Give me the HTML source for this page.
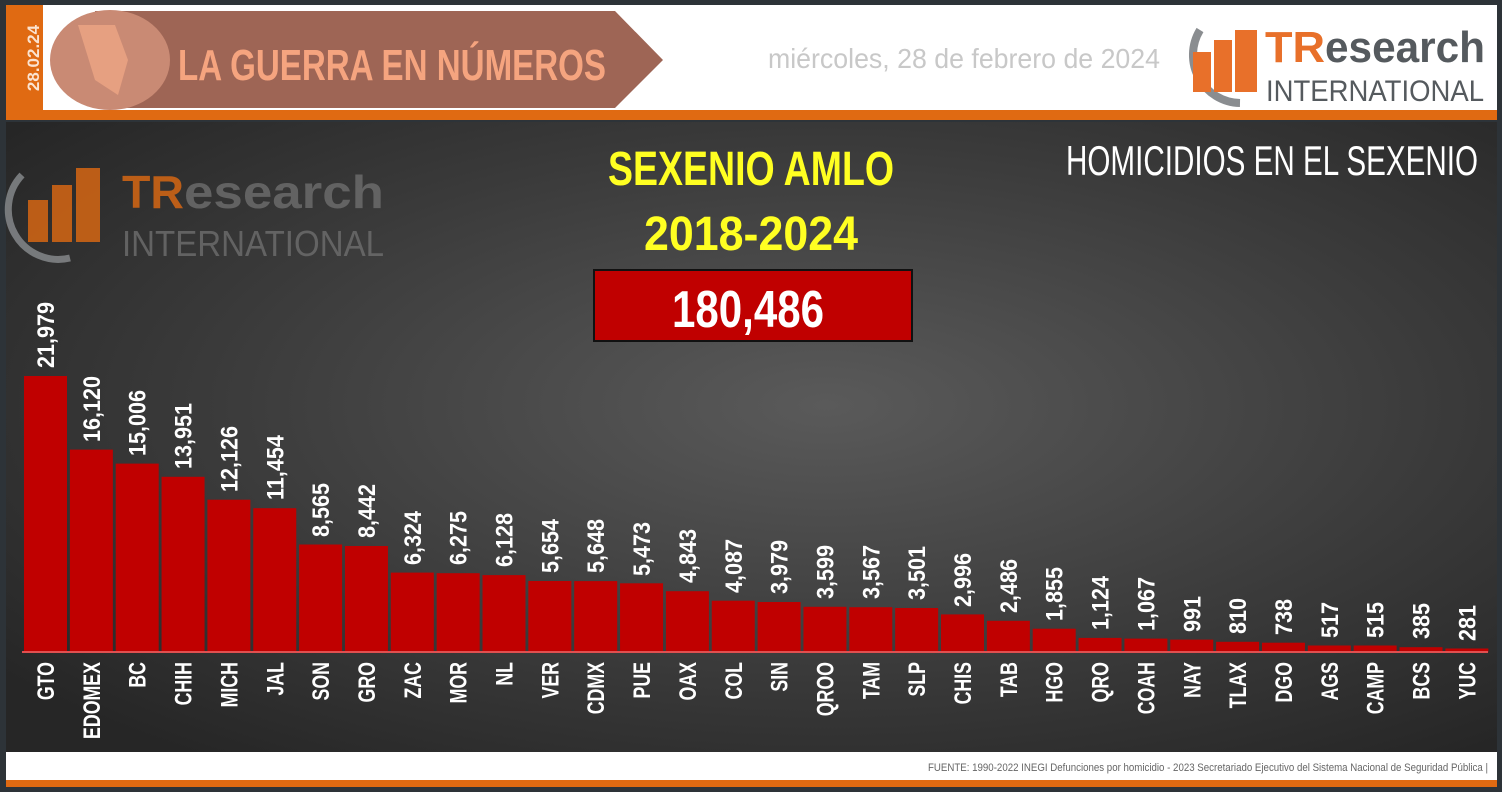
<!DOCTYPE html>
<html><head><meta charset="utf-8"><style>
html,body{margin:0;padding:0;}
body{width:1502px;height:787px;overflow:hidden;background:#2d3338;font-family:"Liberation Sans",sans-serif;}
</style></head><body>
<svg width="1502" height="787" viewBox="0 0 1502 787" xmlns="http://www.w3.org/2000/svg" font-family="'Liberation Sans',sans-serif">
<defs>
<radialGradient id="bg" cx="0.55" cy="0.45" r="0.7">
<stop offset="0" stop-color="#5a5a5a"/><stop offset="0.6" stop-color="#3a3a3a"/><stop offset="1" stop-color="#262626"/>
</radialGradient>
</defs>
<rect x="0" y="0" width="1502" height="787" fill="#2d3338"/>
<rect x="6" y="5" width="1491" height="106" fill="#ffffff"/>
<rect x="6" y="110" width="1491" height="10" fill="#e06a12"/>
<rect x="6" y="5" width="37" height="110" fill="#e06a12"/>
<text transform="translate(39,58) rotate(-90)" text-anchor="middle" fill="#fbe3d0" font-size="17" font-weight="bold">28.02.24</text>
<polygon points="95,11 615,11 663,60 615,108 95,108" fill="#9e6555"/>
<ellipse cx="110" cy="60" rx="60" ry="50" fill="#c98a74"/>
<path d="M78,25 L115,25 L128,60 L118,95 L95,80 Z" fill="#eea585" opacity="0.8"/>
<text x="178" y="80" fill="#f5a47f" font-size="44" font-weight="bold" textLength="428" lengthAdjust="spacingAndGlyphs">LA GUERRA EN NÚMEROS</text>
<text x="768" y="68" fill="#c8c8c8" font-size="28" textLength="392" lengthAdjust="spacingAndGlyphs">miércoles, 28 de febrero de 2024</text>
<path d="M1200,30 A48,48 0 0 0 1240,103" stroke="#8a8d90" stroke-width="8" fill="none"/>
<rect x="1193" y="52" width="18" height="40" fill="#e8702a"/>
<rect x="1214" y="40" width="18" height="52" fill="#e8702a"/>
<rect x="1235" y="30" width="22" height="62" fill="#e8702a"/>
<text x="1265" y="62" font-size="44" font-weight="bold" fill="#e8702a" textLength="60" lengthAdjust="spacingAndGlyphs">TR</text>
<text x="1325" y="62" font-size="44" font-weight="bold" fill="#555a5e" textLength="160" lengthAdjust="spacingAndGlyphs">esearch</text>
<text x="1266" y="101" font-size="30" fill="#555a5e" textLength="218" lengthAdjust="spacingAndGlyphs">INTERNATIONAL</text>
<rect x="6" y="122" width="1491" height="630" fill="url(#bg)"/>
<g opacity="0.8">
<path d="M22,175 A50,50 0 0 0 70,258" stroke="#8a8d90" stroke-width="7" fill="none"/>
<rect x="28" y="200" width="20" height="42" fill="#e06a12"/>
<rect x="52" y="185" width="20" height="57" fill="#e06a12"/>
<rect x="76" y="168" width="24" height="74" fill="#e06a12"/>
<text x="122" y="208" font-size="46" font-weight="bold" fill="#e06a12" textLength="62" lengthAdjust="spacingAndGlyphs">TR</text>
<text x="184" y="208" font-size="46" font-weight="bold" fill="#6e6e6e" textLength="200" lengthAdjust="spacingAndGlyphs">esearch</text>
<text x="122" y="256" font-size="36" fill="#6e6e6e" textLength="262" lengthAdjust="spacingAndGlyphs">INTERNATIONAL</text>
</g>
<text x="751" y="185" text-anchor="middle" fill="#ffff22" font-size="48" font-weight="bold" textLength="286" lengthAdjust="spacingAndGlyphs">SEXENIO  AMLO</text>
<text x="751" y="250" text-anchor="middle" fill="#ffff22" font-size="48" font-weight="bold" textLength="214" lengthAdjust="spacingAndGlyphs">2018-2024</text>
<rect x="594" y="270" width="318" height="71" fill="#c00000" stroke="#111" stroke-width="2"/>
<text x="748" y="327" text-anchor="middle" fill="#ffffff" font-size="52" font-weight="bold" textLength="152" lengthAdjust="spacingAndGlyphs">180,486</text>
<text x="1478" y="175" text-anchor="end" fill="#ffffff" font-size="42" textLength="412" lengthAdjust="spacingAndGlyphs">HOMICIDIOS EN EL SEXENIO</text>
<g fill="#ffffff" font-weight="bold" font-size="24">
<g transform="translate(24)"><rect y="376" width="43" height="276" fill="#c00000"/><text transform="translate(30,368) rotate(-90) scale(0.9,1)">21,979</text><text transform="translate(30,662) rotate(-90) scale(0.74,1)" text-anchor="end">GTO</text></g>
<g transform="translate(69.85)"><rect y="449.6" width="43" height="202.4" fill="#c00000"/><text transform="translate(30,442) rotate(-90) scale(0.9,1)">16,120</text><text transform="translate(30,662) rotate(-90) scale(0.74,1)" text-anchor="end">EDOMEX</text></g>
<g transform="translate(115.7)"><rect y="463.6" width="43" height="188.4" fill="#c00000"/><text transform="translate(30,456) rotate(-90) scale(0.9,1)">15,006</text><text transform="translate(30,662) rotate(-90) scale(0.74,1)" text-anchor="end">BC</text></g>
<g transform="translate(161.55)"><rect y="476.8" width="43" height="175.2" fill="#c00000"/><text transform="translate(30,469) rotate(-90) scale(0.9,1)">13,951</text><text transform="translate(30,662) rotate(-90) scale(0.74,1)" text-anchor="end">CHIH</text></g>
<g transform="translate(207.4)"><rect y="499.7" width="43" height="152.3" fill="#c00000"/><text transform="translate(30,492) rotate(-90) scale(0.9,1)">12,126</text><text transform="translate(30,662) rotate(-90) scale(0.74,1)" text-anchor="end">MICH</text></g>
<g transform="translate(253.25)"><rect y="508.2" width="43" height="143.8" fill="#c00000"/><text transform="translate(30,500) rotate(-90) scale(0.9,1)">11,454</text><text transform="translate(30,662) rotate(-90) scale(0.74,1)" text-anchor="end">JAL</text></g>
<g transform="translate(299.1)"><rect y="544.5" width="43" height="107.5" fill="#c00000"/><text transform="translate(30,537) rotate(-90) scale(0.9,1)">8,565</text><text transform="translate(30,662) rotate(-90) scale(0.74,1)" text-anchor="end">SON</text></g>
<g transform="translate(344.95)"><rect y="546" width="43" height="106" fill="#c00000"/><text transform="translate(30,538) rotate(-90) scale(0.9,1)">8,442</text><text transform="translate(30,662) rotate(-90) scale(0.74,1)" text-anchor="end">GRO</text></g>
<g transform="translate(390.8)"><rect y="572.6" width="43" height="79.4" fill="#c00000"/><text transform="translate(30,565) rotate(-90) scale(0.9,1)">6,324</text><text transform="translate(30,662) rotate(-90) scale(0.74,1)" text-anchor="end">ZAC</text></g>
<g transform="translate(436.65)"><rect y="573.2" width="43" height="78.8" fill="#c00000"/><text transform="translate(30,565) rotate(-90) scale(0.9,1)">6,275</text><text transform="translate(30,662) rotate(-90) scale(0.74,1)" text-anchor="end">MOR</text></g>
<g transform="translate(482.5)"><rect y="575.1" width="43" height="76.9" fill="#c00000"/><text transform="translate(30,567) rotate(-90) scale(0.9,1)">6,128</text><text transform="translate(30,662) rotate(-90) scale(0.74,1)" text-anchor="end">NL</text></g>
<g transform="translate(528.35)"><rect y="581" width="43" height="71" fill="#c00000"/><text transform="translate(30,573) rotate(-90) scale(0.9,1)">5,654</text><text transform="translate(30,662) rotate(-90) scale(0.74,1)" text-anchor="end">VER</text></g>
<g transform="translate(574.2)"><rect y="581.1" width="43" height="70.9" fill="#c00000"/><text transform="translate(30,573) rotate(-90) scale(0.9,1)">5,648</text><text transform="translate(30,662) rotate(-90) scale(0.74,1)" text-anchor="end">CDMX</text></g>
<g transform="translate(620.05)"><rect y="583.3" width="43" height="68.7" fill="#c00000"/><text transform="translate(30,576) rotate(-90) scale(0.9,1)">5,473</text><text transform="translate(30,662) rotate(-90) scale(0.74,1)" text-anchor="end">PUE</text></g>
<g transform="translate(665.9)"><rect y="591.2" width="43" height="60.8" fill="#c00000"/><text transform="translate(30,583) rotate(-90) scale(0.9,1)">4,843</text><text transform="translate(30,662) rotate(-90) scale(0.74,1)" text-anchor="end">OAX</text></g>
<g transform="translate(711.75)"><rect y="600.7" width="43" height="51.3" fill="#c00000"/><text transform="translate(30,593) rotate(-90) scale(0.9,1)">4,087</text><text transform="translate(30,662) rotate(-90) scale(0.74,1)" text-anchor="end">COL</text></g>
<g transform="translate(757.6)"><rect y="602" width="43" height="50" fill="#c00000"/><text transform="translate(30,594) rotate(-90) scale(0.9,1)">3,979</text><text transform="translate(30,662) rotate(-90) scale(0.74,1)" text-anchor="end">SIN</text></g>
<g transform="translate(803.45)"><rect y="606.8" width="43" height="45.2" fill="#c00000"/><text transform="translate(30,599) rotate(-90) scale(0.9,1)">3,599</text><text transform="translate(30,662) rotate(-90) scale(0.74,1)" text-anchor="end">QROO</text></g>
<g transform="translate(849.3)"><rect y="607.2" width="43" height="44.8" fill="#c00000"/><text transform="translate(30,599) rotate(-90) scale(0.9,1)">3,567</text><text transform="translate(30,662) rotate(-90) scale(0.74,1)" text-anchor="end">TAM</text></g>
<g transform="translate(895.15)"><rect y="608" width="43" height="44" fill="#c00000"/><text transform="translate(30,600) rotate(-90) scale(0.9,1)">3,501</text><text transform="translate(30,662) rotate(-90) scale(0.74,1)" text-anchor="end">SLP</text></g>
<g transform="translate(941)"><rect y="614.4" width="43" height="37.6" fill="#c00000"/><text transform="translate(30,607) rotate(-90) scale(0.9,1)">2,996</text><text transform="translate(30,662) rotate(-90) scale(0.74,1)" text-anchor="end">CHIS</text></g>
<g transform="translate(986.85)"><rect y="620.8" width="43" height="31.2" fill="#c00000"/><text transform="translate(30,613) rotate(-90) scale(0.9,1)">2,486</text><text transform="translate(30,662) rotate(-90) scale(0.74,1)" text-anchor="end">TAB</text></g>
<g transform="translate(1032.7)"><rect y="628.7" width="43" height="23.3" fill="#c00000"/><text transform="translate(30,621) rotate(-90) scale(0.9,1)">1,855</text><text transform="translate(30,662) rotate(-90) scale(0.74,1)" text-anchor="end">HGO</text></g>
<g transform="translate(1078.55)"><rect y="637.9" width="43" height="14.1" fill="#c00000"/><text transform="translate(30,630) rotate(-90) scale(0.9,1)">1,124</text><text transform="translate(30,662) rotate(-90) scale(0.74,1)" text-anchor="end">QRO</text></g>
<g transform="translate(1124.4)"><rect y="638.6" width="43" height="13.4" fill="#c00000"/><text transform="translate(30,631) rotate(-90) scale(0.9,1)">1,067</text><text transform="translate(30,662) rotate(-90) scale(0.74,1)" text-anchor="end">COAH</text></g>
<g transform="translate(1170.25)"><rect y="639.6" width="43" height="12.4" fill="#c00000"/><text transform="translate(30,632) rotate(-90) scale(0.9,1)">991</text><text transform="translate(30,662) rotate(-90) scale(0.74,1)" text-anchor="end">NAY</text></g>
<g transform="translate(1216.1)"><rect y="641.8" width="43" height="10.2" fill="#c00000"/><text transform="translate(30,634) rotate(-90) scale(0.9,1)">810</text><text transform="translate(30,662) rotate(-90) scale(0.74,1)" text-anchor="end">TLAX</text></g>
<g transform="translate(1261.95)"><rect y="642.7" width="43" height="9.3" fill="#c00000"/><text transform="translate(30,635) rotate(-90) scale(0.9,1)">738</text><text transform="translate(30,662) rotate(-90) scale(0.74,1)" text-anchor="end">DGO</text></g>
<g transform="translate(1307.8)"><rect y="645.5" width="43" height="6.5" fill="#c00000"/><text transform="translate(30,638) rotate(-90) scale(0.9,1)">517</text><text transform="translate(30,662) rotate(-90) scale(0.74,1)" text-anchor="end">AGS</text></g>
<g transform="translate(1353.65)"><rect y="645.5" width="43" height="6.5" fill="#c00000"/><text transform="translate(30,638) rotate(-90) scale(0.9,1)">515</text><text transform="translate(30,662) rotate(-90) scale(0.74,1)" text-anchor="end">CAMP</text></g>
<g transform="translate(1399.5)"><rect y="647.2" width="43" height="4.8" fill="#c00000"/><text transform="translate(30,639) rotate(-90) scale(0.9,1)">385</text><text transform="translate(30,662) rotate(-90) scale(0.74,1)" text-anchor="end">BCS</text></g>
<g transform="translate(1445.35)"><rect y="648.5" width="43" height="3.5" fill="#c00000"/><text transform="translate(30,641) rotate(-90) scale(0.9,1)">281</text><text transform="translate(30,662) rotate(-90) scale(0.74,1)" text-anchor="end">YUC</text></g>
</g>
<rect x="22" y="651" width="1466" height="2" fill="#e05050"/>
<rect x="6" y="752" width="1491" height="29" fill="#ffffff"/>
<rect x="6" y="780" width="1491" height="7" fill="#e06a12"/>
<text x="1488" y="771" text-anchor="end" fill="#666" font-size="11" textLength="560" lengthAdjust="spacingAndGlyphs">FUENTE: 1990-2022 INEGI Defunciones por homicidio - 2023 Secretariado Ejecutivo del Sistema Nacional de Seguridad Pública |</text>
</svg>
</body></html>
